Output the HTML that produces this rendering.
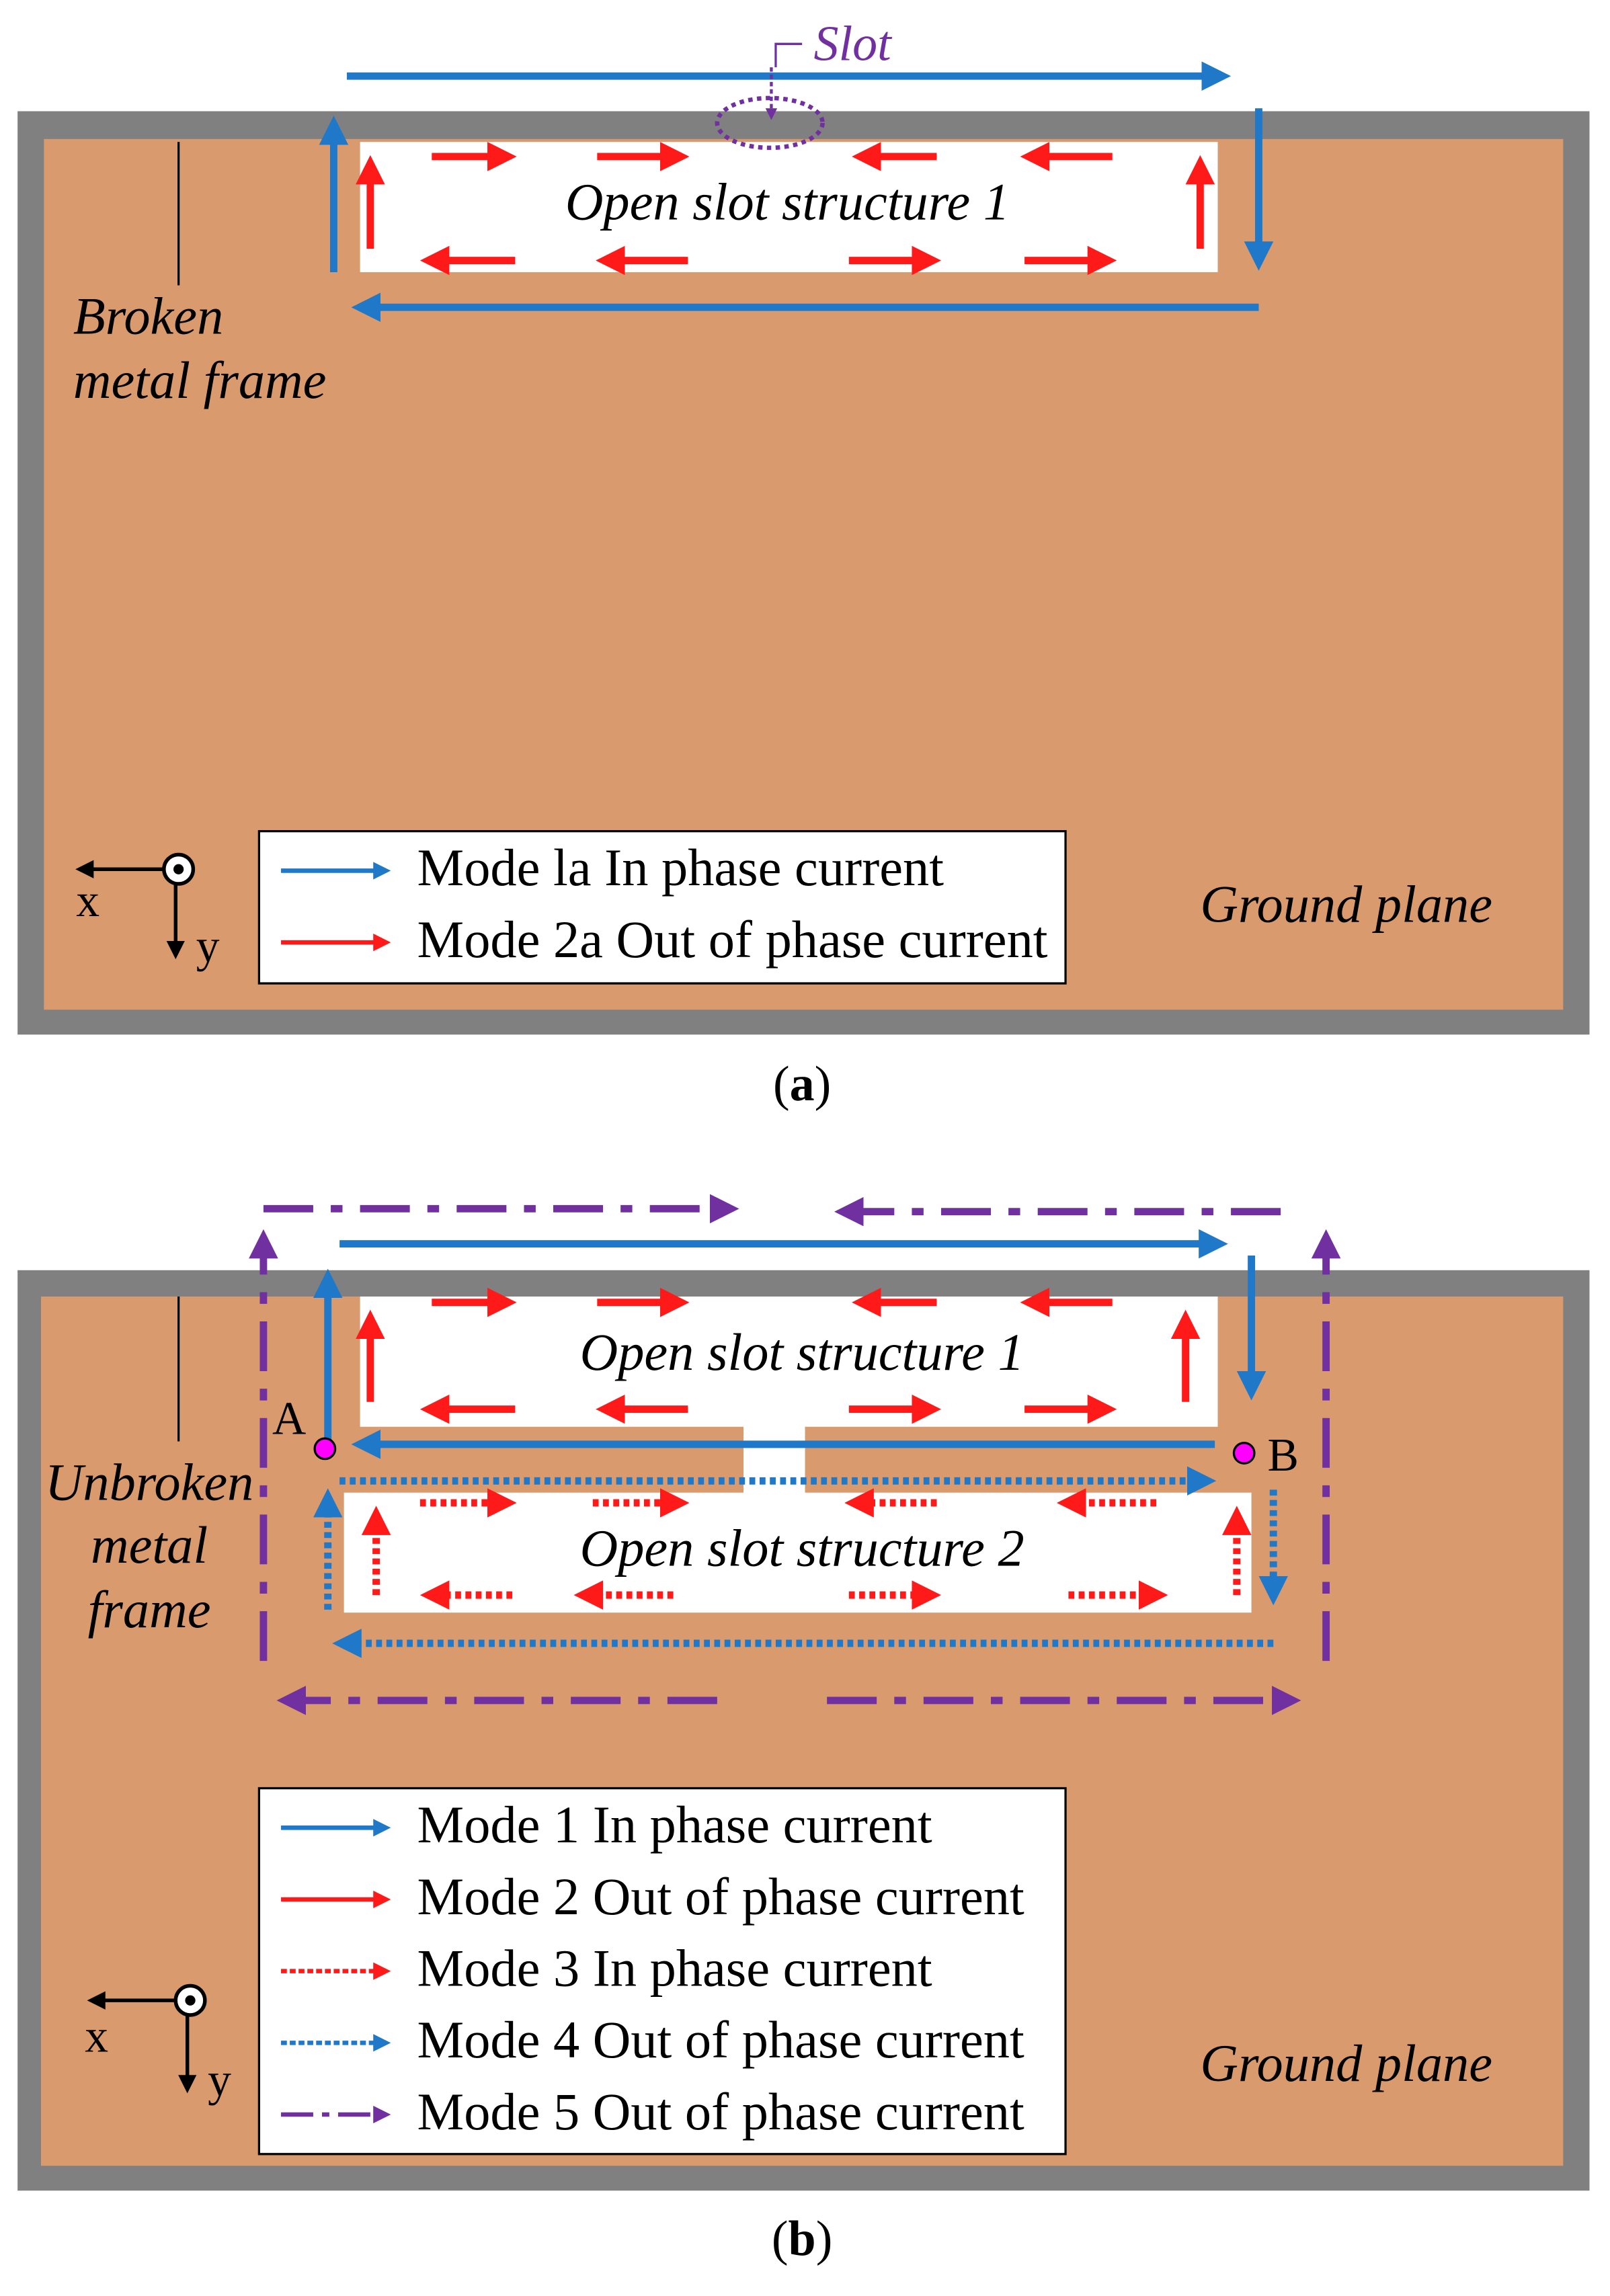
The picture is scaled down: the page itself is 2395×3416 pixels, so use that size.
<!DOCTYPE html>
<html><head><meta charset="utf-8"><style>
html,body{margin:0;padding:0;background:#fff;}
svg{display:block;}
text{font-family:"Liberation Serif",serif;}
.it{font-style:italic;}
</style></head><body>
<svg width="2395" height="3416" viewBox="0 0 1100 1569" preserveAspectRatio="none" xmlns="http://www.w3.org/2000/svg">
<defs>
<marker id="mb" markerWidth="4" markerHeight="4" refX="3" refY="2" orient="auto" markerUnits="strokeWidth"><path d="M0,0 L4,2 L0,4 z" fill="#1F78C8"/></marker>
<marker id="mr" markerWidth="4" markerHeight="4" refX="3" refY="2" orient="auto" markerUnits="strokeWidth"><path d="M0,0 L4,2 L0,4 z" fill="#FF1A1A"/></marker>
<marker id="mp" markerWidth="4" markerHeight="4" refX="3" refY="2" orient="auto" markerUnits="strokeWidth"><path d="M0,0 L4,2 L0,4 z" fill="#7030A0"/></marker>
<marker id="mk" markerWidth="5" markerHeight="5" refX="4" refY="2.5" orient="auto" markerUnits="strokeWidth"><path d="M0,0 L5,2.5 L0,5 z" fill="#000"/></marker>
</defs>

<!-- ===== Panel (a) ===== -->
<rect x="12" y="76" width="1074" height="631" fill="#808080"/>
<rect x="30" y="95" width="1038" height="595" fill="#D99B6E"/>
<rect x="246" y="97" width="586" height="89" fill="#fff"/>
<g stroke="#1F78C8" stroke-width="5" fill="none">
<line x1="237" y1="52" x2="836" y2="52" marker-end="url(#mb)"/>
<line x1="860" y1="74" x2="860" y2="180" marker-end="url(#mb)"/>
<line x1="860" y1="210" x2="245" y2="210" marker-end="url(#mb)"/>
<line x1="228" y1="186" x2="228" y2="84" marker-end="url(#mb)"/>
</g>
<g stroke="#FF1A1A" stroke-width="5" fill="none">
<line x1="295" y1="107" x2="348" y2="107" marker-end="url(#mr)"/>
<line x1="408" y1="107" x2="466" y2="107" marker-end="url(#mr)"/>
<line x1="640" y1="107" x2="587" y2="107" marker-end="url(#mr)"/>
<line x1="760" y1="107" x2="702" y2="107" marker-end="url(#mr)"/>
<line x1="352" y1="178" x2="292" y2="178" marker-end="url(#mr)"/>
<line x1="470" y1="178" x2="412" y2="178" marker-end="url(#mr)"/>
<line x1="580" y1="178" x2="638" y2="178" marker-end="url(#mr)"/>
<line x1="700" y1="178" x2="758" y2="178" marker-end="url(#mr)"/>
<line x1="253" y1="170" x2="253" y2="111" marker-end="url(#mr)"/>
<line x1="820" y1="170" x2="820" y2="111" marker-end="url(#mr)"/>
</g>
<ellipse cx="526" cy="84" rx="36" ry="17" fill="none" stroke="#7030A0" stroke-width="3" stroke-dasharray="3,3"/>
<polyline points="548,30 530,30 530,46" fill="none" stroke="#7030A0" stroke-width="1.5"/>
<line x1="527" y1="46" x2="527" y2="80" stroke="#7030A0" stroke-width="2" stroke-dasharray="3,2" marker-end="url(#mp)"/>
<text x="556" y="41" class="it" font-size="34" fill="#7030A0">Slot</text>
<text x="538" y="150" class="it" font-size="36" text-anchor="middle">Open slot structure 1</text>
<line x1="122" y1="97" x2="122" y2="195" stroke="#000" stroke-width="1.5"/>
<text x="50" y="228" class="it" font-size="36">Broken</text>
<text x="50" y="272" class="it" font-size="36">metal frame</text>
<rect x="177" y="568" width="551" height="104" fill="#fff" stroke="#000" stroke-width="1.5"/>
<line x1="192" y1="595" x2="264" y2="595" stroke="#1F78C8" stroke-width="3" marker-end="url(#mb)"/>
<line x1="192" y1="644" x2="264" y2="644" stroke="#FF1A1A" stroke-width="3" marker-end="url(#mr)"/>
<text x="285" y="605" font-size="36">Mode la In phase current</text>
<text x="285" y="654" font-size="36">Mode 2a Out of phase current</text>
<line x1="112" y1="594" x2="54" y2="594" stroke="#000" stroke-width="2.5" marker-end="url(#mk)"/>
<line x1="120" y1="604" x2="120" y2="653" stroke="#000" stroke-width="2.5" marker-end="url(#mk)"/>
<circle cx="122" cy="594" r="10" fill="#fff" stroke="#000" stroke-width="2.5"/>
<circle cx="122" cy="594" r="3.5" fill="#000"/>
<text x="52" y="626" font-size="32">x</text>
<text x="134" y="657" font-size="32">y</text>
<text x="820" y="630" class="it" font-size="36">Ground plane</text>
<text x="548" y="752" font-size="34" text-anchor="middle">(<tspan font-weight="bold">a</tspan>)</text>

<!-- ===== Panel (b) ===== -->
<rect x="12" y="868" width="1074" height="629" fill="#808080"/>
<rect x="28" y="886" width="1040" height="594" fill="#D99B6E"/>
<rect x="246" y="886" width="586" height="89" fill="#fff"/>
<rect x="508" y="974" width="42" height="48" fill="#fff"/>
<rect x="235" y="1020" width="620" height="82" fill="#fff"/>
<g stroke="#7030A0" stroke-width="5" fill="none" stroke-dasharray="34,12,8,12">
<line x1="180" y1="826" x2="500" y2="826" marker-end="url(#mp)"/>
<line x1="875" y1="828" x2="575" y2="828" marker-end="url(#mp)"/>
<line x1="180" y1="1135" x2="180" y2="845" marker-end="url(#mp)"/>
<line x1="906" y1="1135" x2="906" y2="845" marker-end="url(#mp)"/>
<line x1="490" y1="1162" x2="194" y2="1162" marker-end="url(#mp)"/>
<line x1="565" y1="1162" x2="884" y2="1162" marker-end="url(#mp)"/>
</g>
<g stroke="#1F78C8" stroke-width="5" fill="none">
<line x1="232" y1="850" x2="834" y2="850" marker-end="url(#mb)"/>
<line x1="855" y1="858" x2="855" y2="952" marker-end="url(#mb)"/>
<line x1="830" y1="987" x2="245" y2="987" marker-end="url(#mb)"/>
<line x1="224" y1="985" x2="224" y2="872" marker-end="url(#mb)"/>
</g>
<g stroke="#1F78C8" stroke-width="5" fill="none" stroke-dasharray="4,3">
<line x1="232" y1="1012" x2="826" y2="1012" marker-end="url(#mb)"/>
<line x1="870" y1="1018" x2="870" y2="1092" marker-end="url(#mb)"/>
<line x1="870" y1="1123" x2="232" y2="1123" marker-end="url(#mb)"/>
<line x1="224" y1="1100" x2="224" y2="1022" marker-end="url(#mb)"/>
</g>
<g stroke="#FF1A1A" stroke-width="5" fill="none">
<line x1="295" y1="890" x2="348" y2="890" marker-end="url(#mr)"/>
<line x1="408" y1="890" x2="466" y2="890" marker-end="url(#mr)"/>
<line x1="640" y1="890" x2="587" y2="890" marker-end="url(#mr)"/>
<line x1="760" y1="890" x2="702" y2="890" marker-end="url(#mr)"/>
<line x1="352" y1="963" x2="292" y2="963" marker-end="url(#mr)"/>
<line x1="470" y1="963" x2="412" y2="963" marker-end="url(#mr)"/>
<line x1="580" y1="963" x2="638" y2="963" marker-end="url(#mr)"/>
<line x1="700" y1="963" x2="758" y2="963" marker-end="url(#mr)"/>
<line x1="253" y1="958" x2="253" y2="900" marker-end="url(#mr)"/>
<line x1="810" y1="958" x2="810" y2="900" marker-end="url(#mr)"/>
</g>
<g stroke="#FF1A1A" stroke-width="5" fill="none" stroke-dasharray="4,3">
<line x1="287" y1="1027" x2="348" y2="1027" marker-end="url(#mr)"/>
<line x1="405" y1="1027" x2="466" y2="1027" marker-end="url(#mr)"/>
<line x1="640" y1="1027" x2="582" y2="1027" marker-end="url(#mr)"/>
<line x1="790" y1="1027" x2="727" y2="1027" marker-end="url(#mr)"/>
<line x1="350" y1="1090" x2="292" y2="1090" marker-end="url(#mr)"/>
<line x1="460" y1="1090" x2="397" y2="1090" marker-end="url(#mr)"/>
<line x1="580" y1="1090" x2="638" y2="1090" marker-end="url(#mr)"/>
<line x1="730" y1="1090" x2="793" y2="1090" marker-end="url(#mr)"/>
<line x1="257" y1="1090" x2="257" y2="1034" marker-end="url(#mr)"/>
<line x1="845" y1="1090" x2="845" y2="1034" marker-end="url(#mr)"/>
</g>
<circle cx="222" cy="990" r="7" fill="#FF00FF" stroke="#000" stroke-width="1.5"/>
<circle cx="850" cy="993" r="7" fill="#FF00FF" stroke="#000" stroke-width="1.5"/>
<text x="186" y="980" font-size="32">A</text>
<text x="866" y="1005" font-size="32">B</text>
<text x="548" y="936" class="it" font-size="36" text-anchor="middle">Open slot structure 1</text>
<text x="548" y="1070" class="it" font-size="36" text-anchor="middle">Open slot structure 2</text>
<line x1="122" y1="886" x2="122" y2="985" stroke="#000" stroke-width="1.5"/>
<text x="102" y="1025" class="it" font-size="36" text-anchor="middle">Unbroken</text>
<text x="102" y="1068" class="it" font-size="36" text-anchor="middle">metal</text>
<text x="102" y="1112" class="it" font-size="36" text-anchor="middle">frame</text>
<rect x="177" y="1222" width="551" height="250" fill="#fff" stroke="#000" stroke-width="1.5"/>
<line x1="192" y1="1249" x2="264" y2="1249" stroke="#1F78C8" stroke-width="3" marker-end="url(#mb)"/>
<line x1="192" y1="1298" x2="264" y2="1298" stroke="#FF1A1A" stroke-width="3" marker-end="url(#mr)"/>
<line x1="192" y1="1347" x2="264" y2="1347" stroke="#FF1A1A" stroke-width="3" stroke-dasharray="4,2" marker-end="url(#mr)"/>
<line x1="192" y1="1396" x2="264" y2="1396" stroke="#1F78C8" stroke-width="3" stroke-dasharray="4,2" marker-end="url(#mb)"/>
<line x1="192" y1="1445" x2="264" y2="1445" stroke="#7030A0" stroke-width="3" stroke-dasharray="22,6,5,6" marker-end="url(#mp)"/>
<text x="285" y="1259" font-size="36">Mode 1 In phase current</text>
<text x="285" y="1308" font-size="36">Mode 2 Out of phase current</text>
<text x="285" y="1357" font-size="36">Mode 3 In phase current</text>
<text x="285" y="1406" font-size="36">Mode 4 Out of phase current</text>
<text x="285" y="1455" font-size="36">Mode 5 Out of phase current</text>
<line x1="120" y1="1367" x2="62" y2="1367" stroke="#000" stroke-width="2.5" marker-end="url(#mk)"/>
<line x1="128" y1="1377" x2="128" y2="1428" stroke="#000" stroke-width="2.5" marker-end="url(#mk)"/>
<circle cx="130" cy="1367" r="10" fill="#fff" stroke="#000" stroke-width="2.5"/>
<circle cx="130" cy="1367" r="3.5" fill="#000"/>
<text x="58" y="1402" font-size="32">x</text>
<text x="142" y="1432" font-size="32">y</text>
<text x="820" y="1422" class="it" font-size="36">Ground plane</text>
<text x="548" y="1541" font-size="34" text-anchor="middle">(<tspan font-weight="bold">b</tspan>)</text>
</svg>
</body></html>
